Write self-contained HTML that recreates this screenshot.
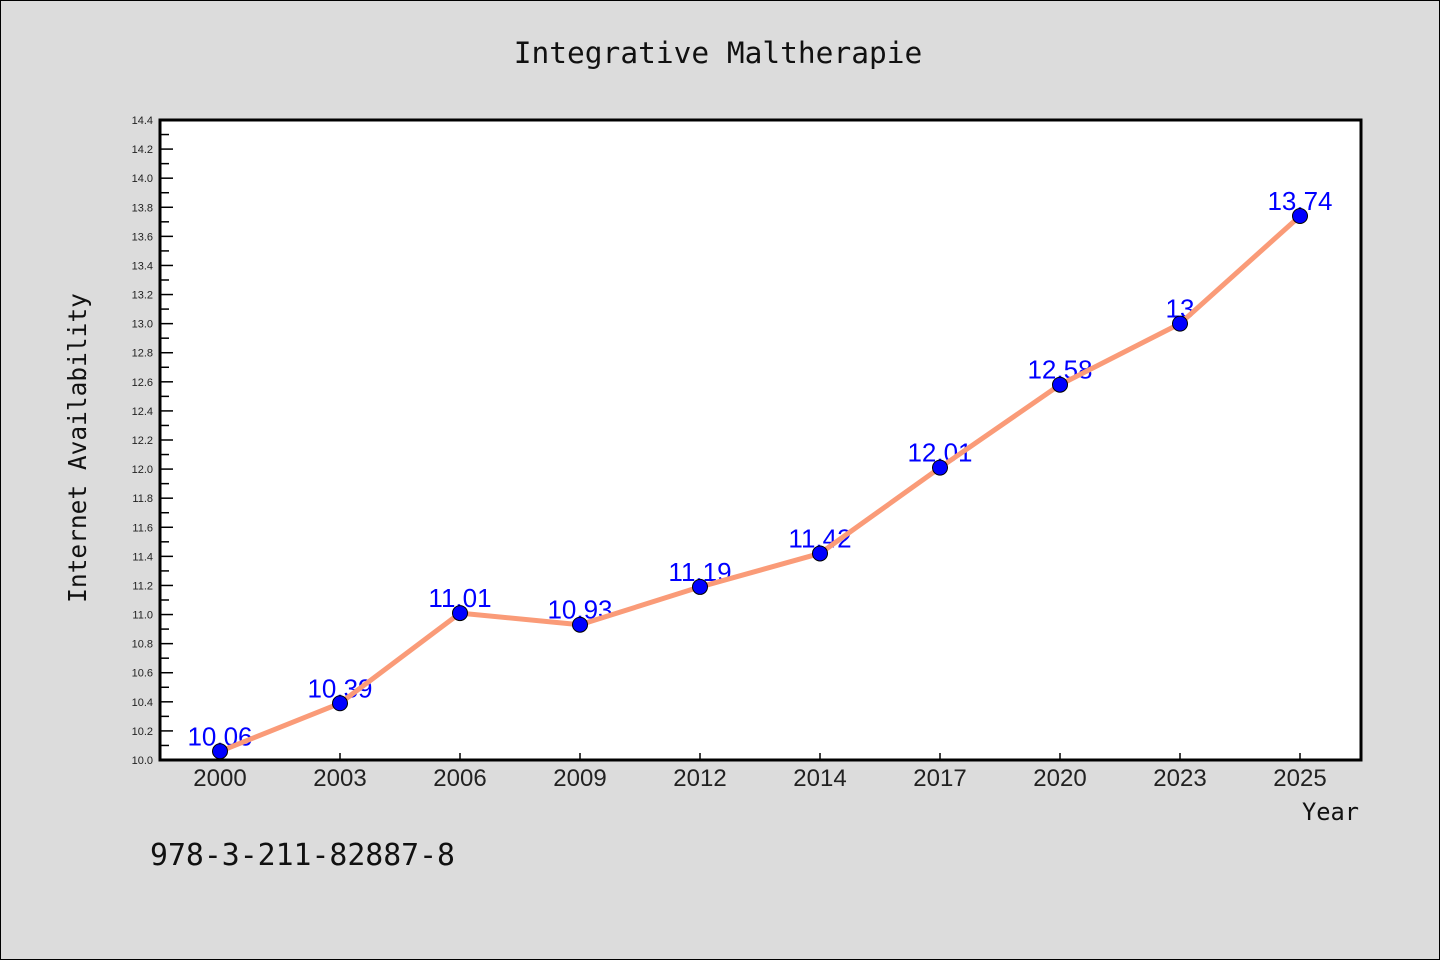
<!DOCTYPE html>
<html><head><meta charset="utf-8"><style>
html,body{margin:0;padding:0;background:#dcdcdc}
svg{display:block}
</style></head><body>
<svg width="1440" height="960" xmlns="http://www.w3.org/2000/svg">
<rect x="0.5" y="0.5" width="1439" height="959" fill="#dcdcdc" stroke="#000"/>
<text x="718" y="63" text-anchor="middle" font-family="DejaVu Sans Mono, Liberation Mono, monospace" font-size="29.5" fill="#111">Integrative Maltherapie</text>
<rect x="160" y="120" width="1201" height="640" fill="#fff"/>
<g id="yaxis"></g>
<g id="xaxis"></g>
<g id="labels"></g>
<g id="series"></g>
<rect x="160" y="120" width="1201" height="640" fill="none" stroke="#000" stroke-width="3"/>
<text transform="translate(86,448) rotate(-90)" text-anchor="middle" font-family="DejaVu Sans Mono, Liberation Mono, monospace" font-size="24.5" fill="#111">Internet Availability</text>
<text x="1359" y="820" text-anchor="end" font-family="DejaVu Sans Mono, Liberation Mono, monospace" font-size="23.7" fill="#111">Year</text>
<text x="150" y="865" font-family="DejaVu Sans Mono, Liberation Mono, monospace" font-size="29.8" fill="#111">978-3-211-82887-8</text>
</svg>
<script>
const categories = ["2000","2003","2006","2009","2012","2014","2017","2020","2023","2025"];
const values = [10.06,10.39,11.01,10.93,11.19,11.42,12.01,12.58,13,13.74];
const valueLabels = ["10.06","10.39","11.01","10.93","11.19","11.42","12.01","12.58","13","13.74"];
const yTicks = [10.0,10.2,10.4,10.6,10.8,11.0,11.2,11.4,11.6,11.8,12.0,12.2,12.4,12.6,12.8,13.0,13.2,13.4,13.6,13.8,14.0,14.2,14.4];
(function(){
const NS="http://www.w3.org/2000/svg";
const yMin=10.0,yMax=14.4,pTop=120,pBot=760;
function y(v){return pBot-(v-yMin)/(yMax-yMin)*(pBot-pTop);}
function x(i){return 220+i*120;}
function mk(t,a,p){const e=document.createElementNS(NS,t);for(const k in a)e.setAttribute(k,a[k]);p.appendChild(e);return e;}
const ya=document.getElementById('yaxis');
yTicks.forEach((v,i)=>{
  const l=mk('line',{x1:160,x2:173,y1:y(v),y2:y(v),stroke:'#000','stroke-width':1.5},ya);
  
  
  if(i<yTicks.length-1){const m=mk('line',{x1:160,x2:169,y1:(y(v)+y(yTicks[i+1]))/2,y2:(y(v)+y(yTicks[i+1]))/2,stroke:'#000','stroke-width':1.5},ya);
  
  }
  const t=mk('text',{x:153,y:y(v)+4,'text-anchor':'end','font-family':'Liberation Sans, sans-serif','font-size':11,fill:'#222'},ya);
  t.textContent=v.toFixed(1);
  
  
});
const xa=document.getElementById('xaxis');
categories.forEach((c,i)=>{
  const l=mk('line',{x1:x(i),x2:x(i),y1:760,y2:753,stroke:'#000','stroke-width':1.5},xa);
  
  
  const t=mk('text',{x:x(i),y:786,'text-anchor':'middle','font-family':'Liberation Sans, sans-serif','font-size':24,fill:'#222'},xa);
  t.textContent=c;
  
  
});
const lb=document.getElementById('labels');
values.forEach((v,i)=>{
  const t=mk('text',{x:x(i),y:y(v)-6,'text-anchor':'middle','font-family':'Liberation Sans, sans-serif','font-size':26,fill:'#0000ff'},lb);
  t.textContent=valueLabels[i];
  
  
});
const se=document.getElementById('series');
const pl=mk('polyline',{points:values.map((v,i)=>x(i)+','+y(v)).join(' '),fill:'none',stroke:'#fa9b78','stroke-width':5,'stroke-linejoin':'round'},se);


values.forEach((v,i)=>{
  const c=mk('circle',{cx:x(i),cy:y(v),r:7.5,fill:'#0000ff',stroke:'#000','stroke-width':1},se);
  
  
});
})();
</script>
</body></html>
